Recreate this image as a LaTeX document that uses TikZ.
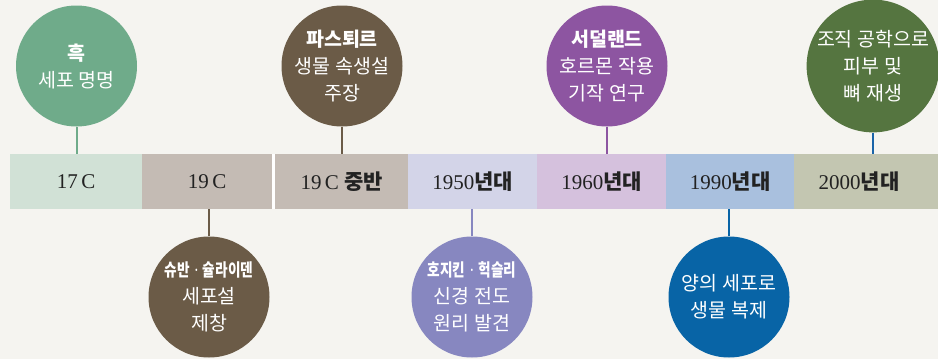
\documentclass[tikz,border=0pt]{standalone}
\usepackage{fontspec}
\setmainfont{Liberation Serif}
\newfontfamily\kr{Noto Sans CJK KR}
\newfontfamily\dotfont{Noto Sans}
\definecolor{bgc}{HTML}{F5F4F0}
\definecolor{c17}{HTML}{D1E1D6}
\definecolor{c19}{HTML}{C4BBB4}
\definecolor{c50}{HTML}{D3D4E8}
\definecolor{c60}{HTML}{D5C1DD}
\definecolor{c90}{HTML}{A9C0DE}
\definecolor{c00}{HTML}{C3C6B1}
\definecolor{ggreen}{HTML}{6FAB8A}
\definecolor{brownc}{HTML}{6B5B47}
\definecolor{lavc}{HTML}{8787C0}
\definecolor{purc}{HTML}{8D55A1}
\definecolor{bluec}{HTML}{0864A6}
\definecolor{olivec}{HTML}{557540}
\definecolor{stemblue}{HTML}{1A64A8}
\definecolor{txt}{HTML}{222222}
\tikzset{
  seg/.style={rectangle, inner sep=0pt, minimum height=55pt, anchor=north west, text=txt, font=\fontsize{21}{24}\selectfont},
  segtext/.style={inner sep=0pt, text=txt, font=\fontsize{21}{24}\selectfont},
  event/.style={circle, inner sep=0pt, minimum size=121pt, text=white, align=center, font=\kr\fontsize{19.5}{27}\selectfont},
  stem/.style={line width=2pt}
}
\newcommand{\yr}[1]{{\kr\bfseries #1}}
\newcommand{\pair}[2]{\scalebox{0.78}[1]{\fontsize{17.5}{27}\selectfont\bfseries #1\hspace{6pt}{\dotfont\mdseries·}\hspace{6pt}#2}}
\begin{document}
\begin{tikzpicture}[x=1pt,y=-1pt]
\fill[bgc] (0,0) rectangle (938,359);
\useasboundingbox (0,0) rectangle (938,359);
% timeline bar
\node[seg, fill=c17, minimum width=132pt] (s1) at (10,154) {17\,C};
\node[seg, fill=c19, minimum width=130pt] (s2) at (142,154) {19\,C};
\fill[white] (272,154) rectangle (275,209);
\node[seg, fill=c19, minimum width=133pt] (s3) at (275,154) {19\,C \yr{중반}};
\node[seg, fill=c50, minimum width=129pt] (s4) at (408,154) {1950\yr{년대}};
\node[seg, fill=c60, minimum width=129pt] (s5) at (537,154) {1960\yr{년대}};
\node[seg, fill=c90, minimum width=128pt] (s6) at (666,154) {1990\yr{년대}};
\node[seg, fill=c00, minimum width=144pt] (s7) at (794,154) {};
\node[segtext] (t7) at (859,181.5) {2000\yr{년대}};
% top events
\node[event, fill=ggreen] (e1) at (76.5,66) {\textbf{흑}\\세포 명명};
\node[event, fill=brownc] (e3) at (342,66) {\textbf{파스퇴르}\\생물 속생설\\주장};
\node[event, fill=purc] (e5) at (607,66) {\textbf{서덜랜드}\\호르몬 작용\\기작 연구};
\node[event, fill=olivec] (e7) at (873,66) {조직 공학으로\\피부 및\\뼈 재생};
% bottom events
\node[event, fill=brownc] (e2) at (209,297) {\pair{슈반}{슐라이덴}\\세포설\\제창};
\node[event, fill=lavc] (e4) at (472,297) {\pair{호지킨}{헉슬리}\\신경 전도\\원리 발견};
\node[event, fill=bluec] (e6) at (729,297) {양의 세포로\\생물 복제};
% stems
\draw[stem, ggreen] (e1.south) -- (e1.south |- s1.north);
\draw[stem, brownc] (e3.south) -- (e3.south |- s3.north);
\draw[stem, purc] (e5.south) -- (e5.south |- s5.north);
\draw[stem, stemblue] (e7.south) -- (e7.south |- s7.north);
\draw[stem, brownc] (e2.north) -- (e2.north |- s2.south);
\draw[stem, lavc] (e4.north) -- (e4.north |- s4.south);
\draw[stem, bluec] (e6.north) -- (e6.north |- s6.south);
\end{tikzpicture}
\end{document}
